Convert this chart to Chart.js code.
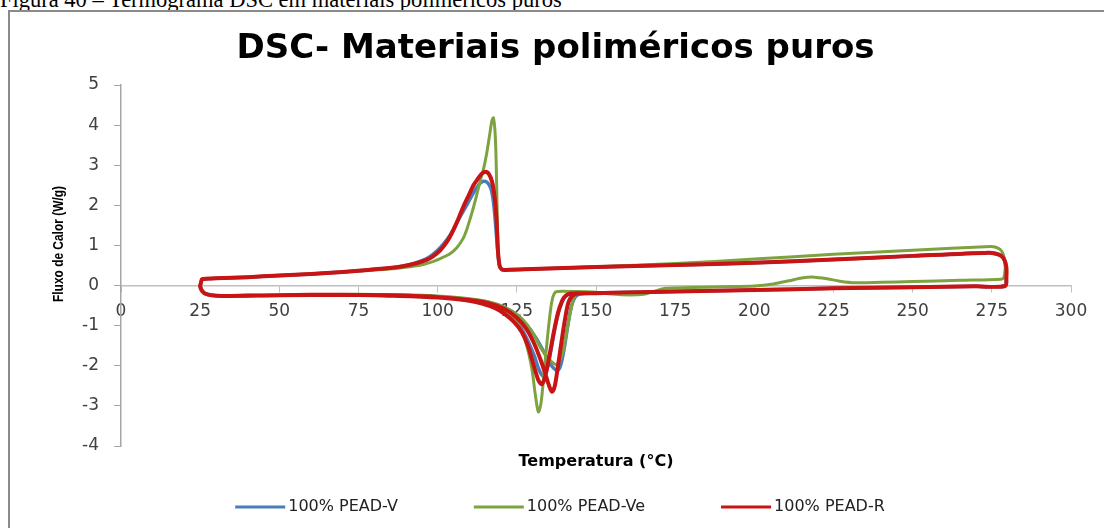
<!DOCTYPE html>
<html>
<head>
<meta charset="utf-8">
<script src="https://cdn.jsdelivr.net/npm/chart.js@4.4.1/dist/chart.umd.min.js"></script>
<style>
  html, body { margin: 0; padding: 0; background: #fff; overflow: hidden; }
  body { width: 1104px; height: 528px; position: relative; }
  #caption { position: absolute; left: 0; top: -11px; font: 22.5px/22px "Liberation Serif", "Times New Roman", serif; white-space: nowrap; color: #000; }
  #frame { position: absolute; left: 8px; top: 10px; width: 1200px; height: 600px; border: 2px solid #8a8a8a; }
  #chart { position: absolute; left: 0; top: 0; }
</style>
</head>
<body>
<div id="caption">Figura 40 – Termograma DSC em materiais poliméricos puros</div>
<div id="frame"></div>
<canvas id="chart" width="1104" height="528"></canvas>
<script>
// series names, in legend order
const seriesNames = ["100% PEAD-V", "100% PEAD-Ve", "100% PEAD-R"];
const xTicks = [0, 25, 50, 75, 100, 125, 150, 175, 200, 225, 250, 275, 300];
const yTicks = [-4, -3, -2, -1, 0, 1, 2, 3, 4, 5];

// [temperature °C, heat flow W/g] : 1st heating -> cooling -> 2nd heating
const peadV = [
  [25,-0.02],[25.5,-0.12],[26.5,-0.2],[28.5,-0.24],[32,-0.26],[40,-0.25],[50,-0.24],[60,-0.23],[70,-0.23],
  [80,-0.24],[88,-0.25],[95,-0.27],[100,-0.29],[105,-0.32],[110,-0.37],[114,-0.43],[118,-0.53],[121,-0.65],
  [124,-0.84],[126.5,-1.08],[128.5,-1.38],[130.5,-1.75],[132,-2.1],[133.4,-2.27],[134.5,-2.1],[135.8,-1.6],
  [137.2,-1.0],[138.6,-0.55],[140,-0.3],[141.5,-0.22],[145,-0.2],[150,-0.19],[160,-0.17],[175,-0.15],
  [200,-0.11],[225,-0.07],[250,-0.04],[270,-0.02],[279,-0.01],
  [279.5,0.2],[279.5,0.45],[279,0.62],[278,0.74],[276,0.8],[274,0.82],[250,0.74],[225,0.65],[200,0.57],
  [175,0.51],[150,0.46],[130,0.41],[121.5,0.39],[120.3,0.4],[119.6,0.48],[119.1,0.75],[118.6,1.2],
  [118.1,1.7],[117.5,2.15],[116.8,2.42],[115.7,2.57],[114.5,2.6],[113.4,2.55],[112,2.4],[110.5,2.2],
  [109,1.98],[107.1,1.72],[105.5,1.48],[104,1.27],[102,1.05],[100,0.88],[97.5,0.72],[95,0.62],[92,0.54],
  [88,0.47],[84,0.43],[78,0.39],[70,0.34],[60,0.29],[50,0.25],[40,0.21],[30,0.18],[25.6,0.16],[25.3,0.08],
  [25,-0.02],
  [25.5,-0.12],[26.5,-0.2],[28.5,-0.24],[32,-0.26],[50,-0.24],[70,-0.23],[88,-0.25],[100,-0.28],[110,-0.35],
  [116,-0.42],[121,-0.55],[125,-0.73],[128,-0.97],[131,-1.3],[133.5,-1.65],[135.5,-1.95],[137.7,-2.12],
  [138.8,-2.0],[140,-1.55],[141.2,-0.95],[142.3,-0.5],[143.5,-0.28],[145,-0.21],[150,-0.19],[155,-0.18]
];

const peadVe = [
  [25,-0.02],[25.5,-0.12],[26.5,-0.2],[28.5,-0.24],[32,-0.26],[40,-0.25],[50,-0.24],[60,-0.23],[70,-0.22],
  [80,-0.22],[88,-0.23],[95,-0.25],[100,-0.27],[105,-0.3],[110,-0.34],[114,-0.4],[118,-0.5],[121,-0.62],
  [124,-0.82],[126.3,-1.1],[128.3,-1.55],[129.8,-2.1],[130.8,-2.7],[131.8,-3.15],[132.6,-2.95],[133.4,-2.35],
  [134.3,-1.6],[135.2,-0.9],[136,-0.42],[136.8,-0.2],[137.8,-0.15],[143,-0.15],[149,-0.16],[153,-0.2],
  [158,-0.23],[165,-0.22],[168.5,-0.14],[172,-0.07],[180,-0.05],[190,-0.03],[200,-0.01],[206,0.04],
  [211,0.12],[215,0.19],[219,0.21],[223,0.17],[227,0.11],[232,0.07],[240,0.08],[250,0.1],[265,0.13],
  [278,0.16],
  [278.8,0.2],[279.2,0.4],[279.1,0.57],[278.6,0.78],[277.6,0.9],[276,0.96],[274.6,0.975],[250,0.88],
  [225,0.78],[200,0.66],[175,0.55],[150,0.47],[130,0.41],[121.5,0.39],[120.3,0.41],[119.4,0.52],[119,1.0],
  [118.8,1.8],[118.6,2.6],[118.4,3.3],[118.1,3.85],[117.6,4.18],[117.1,4.1],[116.5,3.8],[115.6,3.35],
  [114.6,2.95],[113.4,2.6],[112.3,2.25],[111.3,1.95],[110.2,1.65],[109.2,1.4],[108,1.17],[106.1,0.95],
  [104,0.8],[101,0.68],[97.5,0.57],[94,0.5],[88,0.44],[80,0.39],[70,0.34],[60,0.29],[50,0.25],[40,0.21],
  [30,0.18],[25.6,0.16],[25.3,0.08],[25,-0.02],
  [25.5,-0.12],[26.5,-0.2],[28.5,-0.24],[32,-0.26],[50,-0.24],[70,-0.22],[88,-0.23],[100,-0.26],[110,-0.33],
  [116,-0.4],[121,-0.53],[125,-0.72],[128,-0.95],[130.5,-1.25],[132.5,-1.55],[134.5,-1.77],[136,-1.9],
  [137.3,-1.97],[138.4,-1.9],[139.7,-1.6],[141,-1.05],[142.2,-0.55],[143.3,-0.25],[144.5,-0.17],[149,-0.16],
  [153,-0.2]
];

const peadR = [
  [25,-0.02],[25.5,-0.12],[26.5,-0.2],[28.5,-0.24],[32,-0.26],[40,-0.25],[50,-0.24],[60,-0.23],[70,-0.23],
  [80,-0.24],[88,-0.26],[95,-0.28],[100,-0.3],[105,-0.33],[110,-0.38],[114,-0.45],[118,-0.56],[121,-0.7],
  [124,-0.9],[126.5,-1.15],[128.5,-1.5],[130.3,-1.98],[131.8,-2.36],[132.9,-2.46],[134,-2.25],[135.3,-1.75],
  [136.7,-1.15],[138,-0.68],[139.3,-0.38],[140.5,-0.25],[142,-0.2],[145,-0.19],[150,-0.19],[160,-0.17],
  [175,-0.15],[200,-0.11],[225,-0.07],[250,-0.04],[270,-0.02],[279.2,-0.01],
  [279.6,0.2],[279.6,0.45],[279.1,0.62],[278,0.74],[276,0.8],[274,0.82],[250,0.74],[225,0.65],[200,0.57],
  [175,0.51],[150,0.46],[130,0.41],[121.5,0.39],[120.3,0.4],[119.6,0.48],[119.1,0.8],[118.8,1.3],
  [118.5,1.75],[118,2.2],[117.2,2.58],[116.2,2.78],[115,2.84],[113.8,2.78],[112.5,2.64],[111.3,2.5],
  [109.8,2.25],[108.2,1.98],[106.6,1.68],[105,1.39],[103,1.1],[100.8,0.88],[98.5,0.73],[96.5,0.64],
  [93,0.55],[89,0.48],[84,0.43],[78,0.39],[70,0.34],[60,0.29],[50,0.25],[40,0.21],[30,0.18],[25.6,0.16],
  [25.3,0.08],[25,-0.02],
  [25.5,-0.12],[26.5,-0.2],[28.5,-0.24],[32,-0.26],[50,-0.24],[70,-0.23],[88,-0.25],[100,-0.29],[110,-0.36],
  [116,-0.44],[121,-0.58],[125,-0.8],[128,-1.08],[130.5,-1.45],[132.5,-1.85],[134,-2.2],[135.2,-2.5],
  [136.1,-2.65],[137,-2.5],[138,-2.0],[139.2,-1.35],[140.3,-0.8],[141.3,-0.42],[142.5,-0.26],[144,-0.2],
  [148,-0.19],[155,-0.18]
];

const toPoints = (arr) => arr.map(([x, y]) => ({ x, y }));

// y axis title, placed like the original (not centred on the axis), slightly condensed
const yTitlePlugin = {
  id: "yTitle",
  afterDraw(chart) {
    const ctx = chart.ctx;
    ctx.save();
    ctx.translate(59, 244);
    ctx.rotate(-Math.PI / 2);
    ctx.font = 'bold 15px "Liberation Sans", sans-serif';
    const w = ctx.measureText("Fluxo de Calor (W/g)").width;
    ctx.scale(116 / w, 1);
    ctx.fillStyle = "#000";
    ctx.textAlign = "center";
    ctx.textBaseline = "middle";
    ctx.fillText("Fluxo de Calor (W/g)", 0, 0);
    ctx.restore();
  }
};

// legend row at the bottom
const legendPlugin = {
  id: "bottomLegend",
  afterDraw(chart) {
    const ctx = chart.ctx;
    ctx.save();
    ctx.font = '16px "DejaVu Sans", sans-serif';
    const lineLen = 50, gap = 3, itemGap = 76;
    const widths = seriesNames.map((n) => ctx.measureText(n).width);
    const total = widths.reduce((s, w) => s + lineLen + gap + w, 0) + itemGap * (seriesNames.length - 1);
    let x = 560 - total / 2;
    const y = 507;
    chart.data.datasets.forEach((ds, i) => {
      ctx.strokeStyle = ds.borderColor;
      ctx.lineWidth = 3;
      ctx.beginPath();
      ctx.moveTo(x, y);
      ctx.lineTo(x + lineLen, y);
      ctx.stroke();
      x += lineLen + gap;
      ctx.fillStyle = "#222";
      ctx.textBaseline = "middle";
      ctx.fillText(seriesNames[i], x, y);
      x += widths[i] + itemGap;
    });
    ctx.restore();
  }
};

const ctx = document.getElementById("chart").getContext("2d");
new Chart(ctx, {
  type: "scatter",
  data: {
    datasets: [
      { label: seriesNames[0], data: toPoints(peadV), borderColor: "#4A7EBB", borderWidth: 3.5, order: 3 },
      { label: seriesNames[1], data: toPoints(peadVe), borderColor: "#7DA340", borderWidth: 3, order: 2 },
      { label: seriesNames[2], data: toPoints(peadR), borderColor: "#C81414", borderWidth: 4, order: 1 }
    ].map((d) => ({ ...d, xAxisID: "x", yAxisID: "y", showLine: true, pointRadius: 0, tension: 0.3, fill: false }))
  },
  options: {
    responsive: false,
    animation: false,
    layout: { padding: { left: 40, right: 33, top: 24, bottom: 52.5 } },
    plugins: {
      legend: { display: false },
      tooltip: { enabled: false },
      title: {
        display: true,
        text: "DSC- Materiais poliméricos puros",
        color: "#000",
        font: { family: '"DejaVu Sans", sans-serif', size: 34, weight: "bold" },
        padding: { top: 4.6, bottom: 15.6 }
      }
    },
    scales: {
      x: {
        type: "linear",
        position: { y: 0 },
        min: xTicks[0],
        max: xTicks[xTicks.length - 1],
        afterBuildTicks: (scale) => { scale.ticks = xTicks.map((v) => ({ value: v })); },
        ticks: { color: "#404040", padding: 10, maxRotation: 0, font: { family: '"DejaVu Sans", sans-serif', size: 17 } },
        grid: { display: true, drawOnChartArea: false, drawTicks: true, tickLength: 6, color: "#BFBFBF" },
        border: { display: true, color: "#BFBFBF", width: 1.5 }
      },
      xt: {
        type: "linear",
        position: "bottom",
        afterFit: (scale) => { scale.height = 29.5; },
        ticks: { display: false },
        grid: { display: false },
        border: { display: false },
        title: {
          display: true,
          text: "Temperatura (°C)",
          color: "#000",
          padding: { top: 6, bottom: 4 },
          font: { family: '"DejaVu Sans", sans-serif', size: 16, weight: "bold" }
        }
      },
      y: {
        type: "linear",
        position: "left",
        min: yTicks[0],
        max: yTicks[yTicks.length - 1],
        afterBuildTicks: (scale) => { scale.ticks = yTicks.map((v) => ({ value: v })); },
        afterFit: (scale) => { scale.width = 81; },
        ticks: { color: "#404040", padding: 15, font: { family: '"DejaVu Sans", sans-serif', size: 17 } },
        grid: { display: true, drawOnChartArea: false, drawTicks: true, tickLength: 7, color: "#A6A6A6" },
        border: { display: true, color: "#A6A6A6", width: 1.5 }
      }
    }
  },
  plugins: [yTitlePlugin, legendPlugin]
});
</script>
</body>
</html>
